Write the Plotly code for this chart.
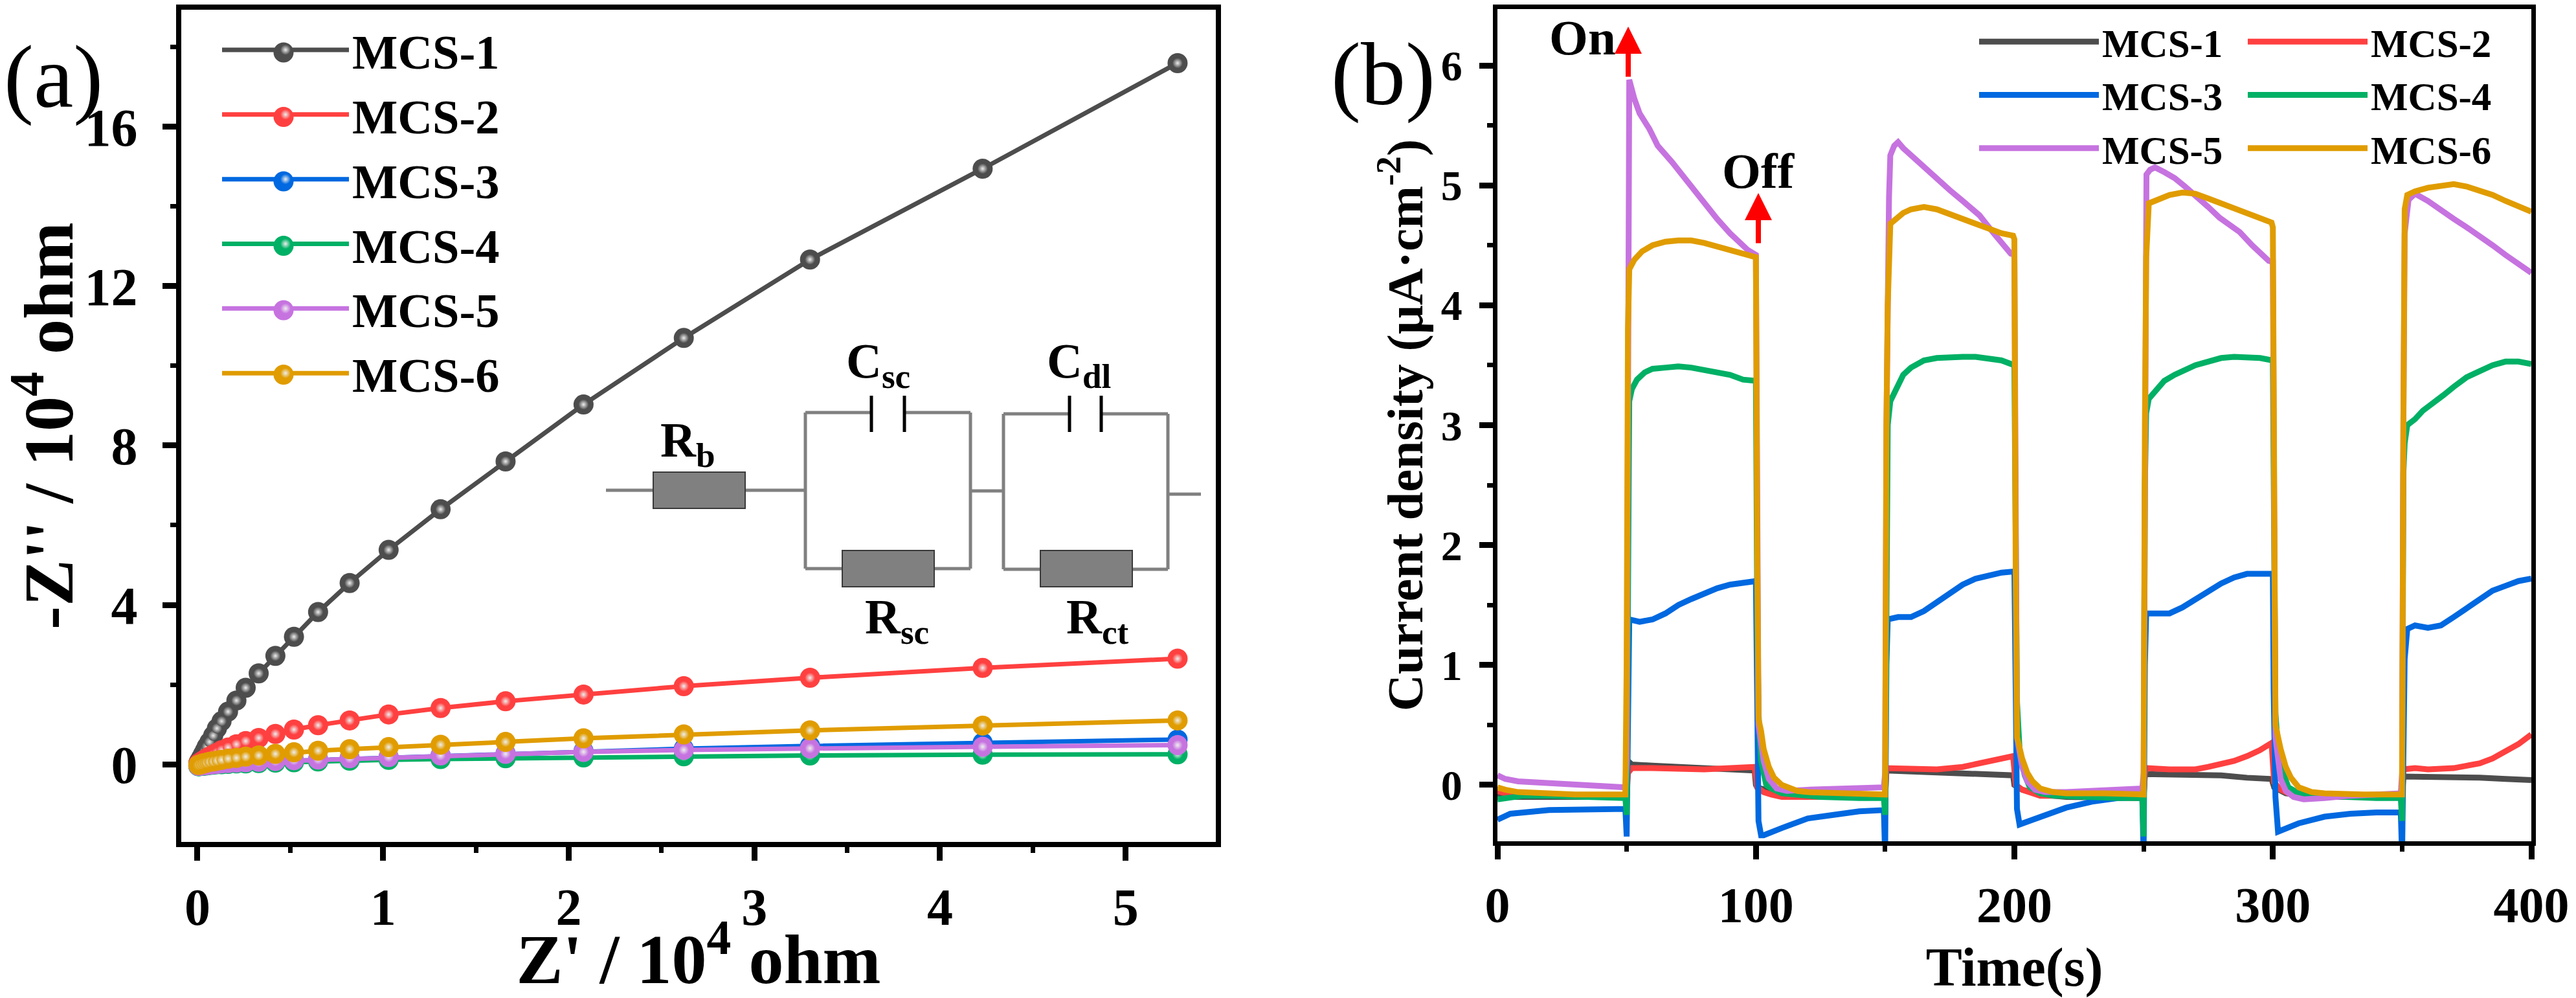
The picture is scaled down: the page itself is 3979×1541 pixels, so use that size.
import plotly.graph_objects as go

W, H = 3979, 1541
FONT = "Liberation Serif"

NAMES = ["MCS-1", "MCS-2", "MCS-3", "MCS-4", "MCS-5", "MCS-6"]
COLORS = ["#4d4d4d", "#ff4040", "#0068e0", "#00b065", "#c673e0", "#e09c00"]

# ---------- panel (a): Nyquist data ----------
z_real = [0.005, 0.01, 0.02, 0.03, 0.04, 0.05, 0.065, 0.085, 0.105, 0.13, 0.165, 0.21, 0.26, 0.33,
          0.42, 0.52, 0.65, 0.82, 1.03, 1.31, 1.66, 2.08, 2.62, 3.30, 4.23, 5.28]
z1 = [0.03, 0.08, 0.16, 0.25, 0.34, 0.44, 0.56, 0.72, 0.90, 1.08, 1.32, 1.60, 1.92, 2.28,
      2.72, 3.20, 3.82, 4.55, 5.38, 6.40, 7.60, 9.03, 10.70, 12.67, 14.95, 17.60]
z2 = [0.01, 0.03, 0.06, 0.09, 0.12, 0.15, 0.19, 0.24, 0.29, 0.35, 0.42, 0.50, 0.58, 0.66,
      0.76, 0.87, 0.98, 1.10, 1.25, 1.41, 1.58, 1.75, 1.96, 2.17, 2.42, 2.65]
z3 = [-0.04, -0.04, -0.03, -0.03, -0.02, -0.02, -0.01, 0.0, 0.01, 0.02, 0.03, 0.04, 0.05, 0.06,
      0.08, 0.10, 0.12, 0.15, 0.18, 0.22, 0.27, 0.33, 0.39, 0.46, 0.54, 0.62]
z4 = [-0.05, -0.05, -0.04, -0.04, -0.03, -0.03, -0.02, -0.01, 0.0, 0.0, 0.01, 0.02, 0.02, 0.03,
      0.04, 0.05, 0.07, 0.09, 0.11, 0.13, 0.15, 0.17, 0.20, 0.22, 0.24, 0.25]
z5 = [-0.04, -0.04, -0.03, -0.03, -0.02, -0.02, -0.01, 0.0, 0.01, 0.02, 0.03, 0.04, 0.05, 0.06,
      0.08, 0.10, 0.12, 0.15, 0.18, 0.22, 0.26, 0.31, 0.36, 0.40, 0.44, 0.48]
z6 = [-0.02, -0.01, 0.0, 0.02, 0.03, 0.04, 0.06, 0.07, 0.09, 0.11, 0.14, 0.16, 0.19, 0.22,
      0.26, 0.30, 0.34, 0.38, 0.43, 0.49, 0.56, 0.65, 0.75, 0.85, 0.97, 1.10]

# ---------- panel (b): photocurrent data ----------
t1 = [0, 20, 49.5, 50, 50.5, 52, 60, 70, 80, 90, 99.5, 100, 100.5, 105, 115, 130, 149.5,
      150, 150.5, 160, 170, 180, 190, 199.5, 200, 203, 210, 220, 249.5,
      250, 250.5, 260, 270, 280, 290, 299.5, 300.5, 305, 315, 349.5,
      350, 350.5, 360, 370, 380, 390, 400]
j1 = [-0.1, -0.1, -0.1, -0.1, 0.2, 0.17, 0.16, 0.15, 0.14, 0.13, 0.12, 0.0, -0.02, -0.05, -0.08, -0.09, -0.1,
      -0.1, 0.12, 0.11, 0.1, 0.1, 0.09, 0.08, 0.0, -0.04, -0.08, -0.1, -0.11,
      -0.11, 0.09, 0.09, 0.09, 0.08, 0.06, 0.05, -0.02, -0.07, -0.1, -0.1,
      -0.1, 0.07, 0.07, 0.07, 0.06, 0.05, 0.04]
t2 = [0, 3, 10, 49.5, 50, 50.5, 52, 60, 70, 80, 90, 99.5, 100.5, 103, 106, 110, 120, 149.5,
      150, 150.5, 160, 170, 180, 185, 190, 195, 199.5, 200.5, 203, 210, 249.5,
      250, 250.5, 251, 260, 270, 275, 280, 285, 290, 295, 299.5, 300.5, 303, 306, 315, 349.5,
      350, 350.5, 355, 360, 365, 370, 375, 380, 385, 390, 395, 400]
j2 = [-0.05, -0.07, -0.08, -0.09, -0.09, 0.1, 0.14, 0.14, 0.13, 0.13, 0.14, 0.15, -0.02, -0.06, -0.08, -0.1, -0.1, -0.1,
      -0.1, 0.14, 0.13, 0.13, 0.15, 0.17, 0.2, 0.22, 0.24, 0.0, -0.04, -0.09, -0.09,
      -0.09, 0.1, 0.14, 0.13, 0.13, 0.15, 0.17, 0.2, 0.24, 0.29, 0.35, 0.02, -0.04, -0.07, -0.09, -0.09,
      -0.09, 0.13, 0.14, 0.13, 0.13, 0.14, 0.16, 0.18, 0.22, 0.28, 0.34, 0.42]
t3 = [0, 5, 20, 49.5, 50, 50.4, 51, 55, 60, 65, 70, 75, 80, 85, 90, 95, 100, 100.3, 100.8, 101, 102, 103, 110, 120, 130, 140, 149.5,
      150, 150.5, 151, 155, 160, 165, 170, 175, 180, 185, 190, 195, 200, 200.5, 201, 202, 210, 220, 230, 240, 249.5,
      250, 250.5, 251, 255, 260, 265, 270, 275, 280, 285, 290, 295, 300, 300.3, 301, 302, 310, 320, 330, 340, 349.5,
      350, 350.5, 351, 352, 355, 360, 365, 370, 375, 380, 385, 390, 395, 400]
j3 = [-0.29, -0.24, -0.21, -0.2, -0.43, 0.8, 1.38, 1.36, 1.38, 1.43, 1.5, 1.55, 1.6, 1.64, 1.67, 1.69, 1.7, 1.1, -0.1, -0.3, -0.42, -0.42, -0.36, -0.28, -0.25, -0.22, -0.21,
      -0.6, 1.0, 1.38, 1.4, 1.4, 1.45, 1.52, 1.6, 1.67, 1.72, 1.75, 1.77, 1.78, 0.6, -0.2, -0.33, -0.265, -0.19, -0.14, -0.11, -0.1,
      -0.6, 1.0, 1.43, 1.43, 1.43, 1.48, 1.55, 1.62, 1.68, 1.73, 1.76, 1.76, 1.76, 0.8, -0.1, -0.39, -0.32, -0.265, -0.24, -0.23, -0.23,
      -0.6, 0.8, 1.05, 1.3, 1.33, 1.31, 1.33, 1.4, 1.47, 1.55, 1.62, 1.66, 1.7, 1.72]
t4 = [0, 3, 10, 20, 35, 49.5, 50, 50.5, 51, 52, 54, 57, 60, 65, 70, 75, 80, 85, 90, 95, 100, 100.5, 101, 102, 104, 106, 110, 115, 125, 140, 149.5,
      150, 150.5, 151, 152, 154, 157, 160, 165, 170, 175, 180, 185, 190, 195, 200, 200.5, 201, 202, 204, 206, 210, 215, 225, 240, 249.5,
      250, 250.5, 251, 252, 255, 258, 262, 266, 270, 275, 280, 285, 290, 295, 300, 300.5, 301, 302, 304, 306, 310, 315, 325, 340, 349.5,
      350, 350.5, 351, 352, 355, 358, 362, 366, 370, 375, 380, 385, 390, 395, 400]
j4 = [-0.12, -0.11, -0.09, -0.09, -0.1, -0.11, -0.25, 2.5, 3.2, 3.3, 3.38, 3.44, 3.47, 3.48, 3.49, 3.48, 3.46, 3.44, 3.42, 3.38, 3.37, 1.5, 0.6, 0.2, 0.0, -0.03, -0.07, -0.08, -0.1, -0.11, -0.11,
      -0.25, 2.5, 3.0, 3.2, 3.3, 3.42, 3.48, 3.54, 3.56, 3.57, 3.57, 3.57, 3.56, 3.54, 3.5, 1.8, 0.7, 0.3, 0.08, -0.02, -0.07, -0.09, -0.1, -0.11, -0.11,
      -0.43, 2.5, 3.1, 3.22, 3.3, 3.37, 3.42, 3.46, 3.5, 3.53, 3.56, 3.57, 3.57, 3.56, 3.54, 1.5, 0.6, 0.3, 0.1, -0.02, -0.07, -0.09, -0.1, -0.11, -0.11,
      -0.3, 2.6, 2.85, 3.0, 3.05, 3.12, 3.18, 3.25, 3.32, 3.4, 3.45, 3.5, 3.53, 3.53, 3.51]
t5 = [0, 3, 8, 15, 30, 49.5, 50, 50.5, 51, 53, 55, 58.8, 62, 67.7, 72, 76, 80.5, 85, 90, 96.9, 100, 100.5, 101, 103, 105, 108, 112, 120, 135, 149.5,
      150, 150.5, 151.5, 152, 153.5, 155, 157, 161, 165, 169.4, 175, 180, 186.5, 192, 198.6, 200, 200.5, 201, 203, 205, 208, 212, 220, 235, 249.5,
      250, 250.5, 251.1, 252.5, 254.4, 258, 262, 266, 270, 275, 279.4, 287.2, 292, 298.4, 300, 300.5, 301, 303, 305, 308, 312, 320, 330, 349.5,
      350, 350.5, 351, 352.5, 355, 360, 365, 370, 375, 380, 385, 390, 395, 400]
j5 = [0.08, 0.05, 0.03, 0.02, 0.0, -0.02, 0.2, 4.0, 5.88, 5.72, 5.6, 5.47, 5.33, 5.19, 5.07, 4.96, 4.84, 4.72, 4.6, 4.46, 4.42, 1.5, 0.5, 0.2, 0.05, -0.03, -0.05, -0.04, -0.03, -0.02,
      0.1, 3.0, 4.9, 5.25, 5.33, 5.36, 5.31, 5.23, 5.15, 5.06, 4.96, 4.87, 4.75, 4.6, 4.43, 4.42, 1.5, 0.4, 0.15, 0.03, -0.04, -0.06, -0.06, -0.05, -0.03,
      0.1, 3.0, 5.09, 5.13, 5.15, 5.11, 5.06, 4.99, 4.92, 4.82, 4.73, 4.61, 4.5, 4.37, 4.36, 1.2, 0.4, 0.05, -0.05, -0.1, -0.12, -0.11, -0.09, -0.07,
      0.1, 3.0, 4.6, 4.88, 4.93, 4.87, 4.79, 4.72, 4.65, 4.58, 4.5, 4.42, 4.34, 4.27]
t6 = [0, 3, 8, 15, 30, 49.5, 50, 50.5, 51, 53, 56, 60, 65, 70, 75, 80, 85, 90, 95, 99, 100, 100.5, 101, 102, 103, 105, 107, 110, 113, 116, 120, 130, 140, 149.5,
      150, 150.5, 151, 152, 154, 157, 160, 165, 170, 175, 180, 185, 190, 195, 199.5, 200, 200.5, 201, 203, 205, 207, 210, 215, 220, 235, 249.5,
      250, 250.5, 251, 252, 255, 260, 265, 270, 275, 280, 285, 290, 295, 299.5, 300, 300.5, 301, 303, 305, 307, 310, 315, 320, 335, 349.5,
      350, 350.5, 351, 352, 355, 360, 365, 370, 375, 380, 385, 390, 395, 400]
j6 = [-0.02, -0.04, -0.06, -0.07, -0.08, -0.08, 1.0, 3.8, 4.3, 4.38, 4.45, 4.5, 4.53, 4.54, 4.54, 4.52, 4.49, 4.47, 4.44, 4.41, 4.40, 2.0, 0.55, 0.45, 0.3, 0.15, 0.06, 0.0, -0.03, -0.05, -0.06, -0.07, -0.08, -0.08,
      -0.08, 3.0, 4.0, 4.68, 4.72, 4.77, 4.8, 4.82, 4.8, 4.76, 4.72, 4.68, 4.64, 4.6, 4.58, 4.55, 1.8, 0.4, 0.22, 0.1, 0.03, -0.03, -0.06, -0.07, -0.07, -0.08,
      -0.08, 3.0, 4.4, 4.85, 4.88, 4.92, 4.94, 4.93, 4.89, 4.85, 4.8, 4.76, 4.72, 4.69, 4.65, 1.8, 0.5, 0.3, 0.15, 0.06, -0.02, -0.06, -0.07, -0.08, -0.08,
      -0.08, 3.0, 4.8, 4.92, 4.95, 4.98, 5.0, 5.01, 4.99, 4.96, 4.92, 4.87, 4.83, 4.78]


def fx(p):
    return p / W


def fy(p):
    return 1 - p / H


fig = go.Figure()

z_series = [z1, z2, z3, z4, z5, z6]
for name, color, zi in zip(NAMES, COLORS, z_series):
    # solid ball, then the line with a small glossy highlight on top of it
    fig.add_trace(go.Scatter(
        x=z_real, y=zi, name=name, mode="markers", showlegend=False,
        marker=dict(symbol="circle", size=31, color=color, line=dict(width=0)),
        xaxis="x", yaxis="y", hoverinfo="skip"))
    fig.add_trace(go.Scatter(
        x=z_real, y=zi, name=name, mode="lines+markers", legend="legend",
        line=dict(color=color, width=7),
        marker=dict(symbol="circle", size=16, color=color, line=dict(width=0),
                    gradient=dict(type="radial", color="#eeeeee")),
        xaxis="x", yaxis="y"))

b_series = [(t1, j1), (t2, j2), (t3, j3), (t4, j4), (t5, j5), (t6, j6)]
for i, (name, color, (ti, ji)) in enumerate(zip(NAMES, COLORS, b_series)):
    fig.add_trace(go.Scatter(
        x=ti, y=ji, name=name, mode="lines", legend="legend2" if i % 2 == 0 else "legend3",
        line=dict(color=color, width=9),
        xaxis="x2", yaxis="y2"))


def axis(domain, rng, dtick, minor, title, tick_size, title_size, standoff, label_gap, lw=8, **kw):
    return dict(
        domain=domain, range=rng, dtick=dtick, tick0=0, showgrid=False, zeroline=False,
        showline=True, mirror=True, linecolor="black", linewidth=lw,
        ticks="outside", ticklen=21, tickwidth=9, tickcolor="black", ticklabelstandoff=label_gap,
        minor=dict(dtick=minor, ticks="outside", ticklen=9, tickwidth=7, tickcolor="black", showgrid=False),
        tickfont=dict(family=FONT, size=tick_size, color="black", weight="bold"),
        title=dict(text=title, font=dict(family=FONT, size=title_size, color="black", weight="bold"), standoff=standoff),
        automargin=False, **kw)


ALEFT, ARIGHT, ATOP, ABOT = 280, 1878, 15, 1300
BLEFT, BRIGHT, BTOP, BBOT = 2313, 3910, 14, 1299

LEG_B = dict(yanchor="top", xanchor="left", bgcolor="rgba(0,0,0,0)", borderwidth=0, itemwidth=185,
             font=dict(family=FONT, size=61, color="black", weight="bold"))

layout = dict(
    width=W, height=H, margin=dict(l=0, r=0, t=0, b=0, pad=0, autoexpand=False),
    paper_bgcolor="white", plot_bgcolor="white",
    xaxis=axis([fx(ALEFT), fx(ARIGHT)], [-0.087, 5.486], 1, 0.5, "Z' / 10<sup>4</sup> ohm", 80, 108, 60, 3, anchor="y"),
    yaxis=axis([fy(ABOT), fy(ATOP)], [-1.95, 18.94], 4, 2, "-Z'' / 10<sup>4</sup> ohm", 82, 108, 8, 22, anchor="x"),
    xaxis2=axis([fx(BLEFT), fx(BRIGHT)], [0, 400], 100, 50, "Time(s)", 78, 84, 43, 3, anchor="y2", lw=7),
    yaxis2=axis([fy(BBOT), fy(BTOP)], [-0.47, 6.47], 1, 0.5, "Current density (μA·cm<sup>-2</sup>)", 66, 79, 5, 13, anchor="x2", lw=7),
    legend=dict(x=fx(338), y=fy(22), xanchor="left", yanchor="top", bgcolor="rgba(0,0,0,0)",
                borderwidth=0, itemwidth=196, tracegroupgap=0,
                font=dict(family=FONT, size=74.5, color="black", weight="bold")),
    legend2=dict(x=fx(3052), y=fy(18), **LEG_B),
    legend3=dict(x=fx(3467), y=fy(18), **LEG_B),
    showlegend=True,
)

WIRE = dict(color="#808080", width=5)
BOX = dict(color="#3a3a3a", width=2)
PLATE = dict(color="black", width=5)


def seg(x0, y0, x1, y1, line=WIRE):
    return dict(type="line", xref="paper", yref="paper", x0=fx(x0), y0=fy(y0), x1=fx(x1), y1=fy(y1), line=line)


def box(x0, y0, x1, y1):
    return dict(type="rect", xref="paper", yref="paper", x0=fx(x0), y0=fy(y0), x1=fx(x1), y1=fy(y1),
                line=BOX, fillcolor="#808080")


def ball(cx, cy, color, r=15.5):
    return dict(type="circle", xref="paper", yref="paper", x0=fx(cx - r), y0=fy(cy - r), x1=fx(cx + r), y1=fy(cy + r),
                line=dict(width=0), fillcolor=color)


shapes = [
    seg(936, 757, 1244, 757),
    seg(1244, 637, 1346, 637), seg(1397, 637, 1499, 637),
    seg(1244, 637, 1244, 878), seg(1499, 637, 1499, 878), seg(1244, 878, 1499, 878),
    seg(1499, 758, 1550, 758),
    seg(1550, 639, 1652, 639), seg(1701, 639, 1804, 639),
    seg(1550, 639, 1550, 879), seg(1804, 639, 1804, 879), seg(1550, 879, 1804, 879),
    seg(1804, 763, 1855, 763),
    box(1009, 729, 1151, 785), box(1301, 850, 1443, 906), box(1607, 850, 1749, 906),
    seg(1346, 611, 1346, 667, PLATE), seg(1397, 611, 1397, 667, PLATE),
    seg(1652, 611, 1652, 667, PLATE), seg(1701, 611, 1701, 667, PLATE),
]
# full-size balls behind the legend's own (size-capped) markers
for k, color in enumerate(COLORS):
    shapes.append(ball(438, 81 + 99.5 * k, color))
layout["shapes"] = shapes


def label(x, y, text, size, bold=True):
    return dict(xref="paper", yref="paper", x=fx(x), y=fy(y), text=text, showarrow=False,
                xanchor="center", yanchor="middle",
                font=dict(family=FONT, size=size, color="black", weight="bold" if bold else "normal"))


def arrow(x, y, length):
    return dict(xref="paper", yref="paper", x=fx(x), y=fy(y), text="", showarrow=True,
                ax=0, ay=length, arrowcolor="#ff0000", arrowwidth=8, arrowhead=2, arrowsize=1.05, standoff=0)


layout["annotations"] = [
    label(82, 118, "(a)", 138, bold=False),
    label(2136, 115, "(b)", 138, bold=False),
    label(1062, 685, "R<sub>b</sub>", 76),
    label(1356, 563, "C<sub>sc</sub>", 76),
    label(1666, 563, "C<sub>dl</sub>", 76),
    label(1385, 958, "R<sub>sc</sub>", 76),
    label(1695, 958, "R<sub>ct</sub>", 76),
    label(2444, 58, "On", 77),
    label(2716, 264, "Off", 77),
    arrow(2515, 41, 79),
    arrow(2716, 298, 79),
]

fig.update_layout(**layout)
fig.write_html("out.html", post_script="document.body.style.margin='0';", config={"displayModeBar": False})
